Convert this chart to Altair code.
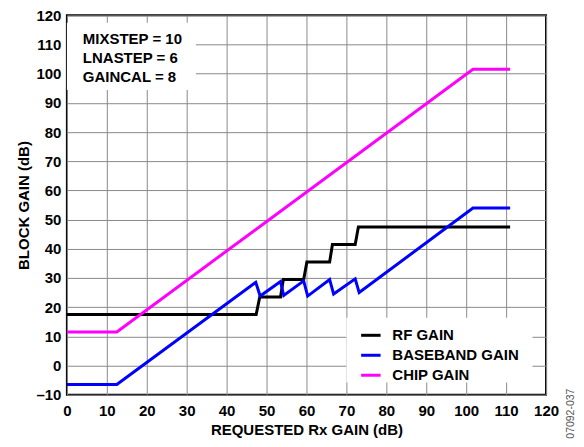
import altair as alt
import pandas as pd

# ---- data ----
rf_x = [0, 47.4, 48.3, 53.5, 54.2, 59.3, 60.1, 65.8, 66.5, 72.2, 73.0, 111]
rf_y = [17.5, 17.5, 23.5, 23.5, 29.5, 29.5, 35.5, 35.5, 41.5, 41.5, 47.5, 47.5]

bb_x = [0, 12.5, 47.3, 48.4, 53.5, 54.3, 59.3, 60.3, 65.8, 66.8, 72.2, 73.2, 101.7, 111]
bb_y = [-6.5, -6.5, 28.5, 23.8, 28.8, 24.0, 29.0, 23.8, 29.5, 24.5, 29.7, 25.0, 54.0, 54.0]

chip_x = [0, 12.5, 101.7, 111]
chip_y = [11.5, 11.5, 101.5, 101.5]

series_names = ["RF GAIN", "BASEBAND GAIN", "CHIP GAIN"]
series_colors = ["#000000", "#0000FF", "#FF00FF"]

x_ticks = list(range(0, 121, 10))
y_ticks = list(range(-10, 121, 10))

note_lines = ["MIXSTEP = 10", "LNASTEP = 6", "GAINCAL = 8"]
note_x = [4, 4, 4]
note_y = [111.9, 105.3, 98.8]
note_box = {"x": [0], "x2": [32.3], "y": [94.4], "y2": [117.5]}
legend_box = {"x": [70], "x2": [116.6], "y": [-5.8], "y2": [16.4]}

figure_id = "07092-037"

FONT = "Liberation Sans"
FS = 15

rows = []
for name, xs, ys in zip(series_names, [rf_x, bb_x, chip_x], [rf_y, bb_y, chip_y]):
    for i, (a, b) in enumerate(zip(xs, ys)):
        rows.append({"series": name, "x": a, "y": b, "order": i})
df = pd.DataFrame(rows)

xscale = alt.Scale(domain=[0, 120], nice=False, zero=False)
yscale = alt.Scale(domain=[-10, 120], nice=False, zero=False)

xaxis = alt.Axis(values=x_ticks, title="REQUESTED Rx GAIN (dB)", labelPadding=9,
                 titlePadding=4, labelFlush=False, labelOverlap=False)
yaxis = alt.Axis(values=y_ticks, title="BLOCK GAIN (dB)", labelPadding=6, titlePadding=4,
                 labelFlush=False, labelOverlap=False,
                 labelExpr="datum.value < 0 ? '\u2013' + format(-datum.value, 'd') : datum.label")

lines = alt.Chart(df).mark_line(strokeWidth=3, clip=True).encode(
    x=alt.X("x:Q", scale=xscale, axis=xaxis),
    y=alt.Y("y:Q", scale=yscale, axis=yaxis),
    color=alt.Color("series:N",
                    scale=alt.Scale(domain=series_names, range=series_colors),
                    legend=alt.Legend(title=None, orient="none", legendX=293, legendY=309,
                                      symbolType="stroke", symbolSize=380, symbolStrokeWidth=3,
                                      labelFont=FONT, labelFontSize=FS, labelFontWeight="bold",
                                      labelColor="black", labelOffset=10, rowPadding=0,
                                      padding=0)),
    order="order:Q",
)

nb = alt.Chart(pd.DataFrame(note_box)).mark_rect(fill="white", stroke=None).encode(
    x=alt.X("x:Q", scale=xscale, axis=xaxis), x2="x2:Q",
    y=alt.Y("y:Q", scale=yscale, axis=yaxis), y2="y2:Q")
lb = alt.Chart(pd.DataFrame(legend_box)).mark_rect(fill="white", stroke=None).encode(
    x=alt.X("x:Q", scale=xscale, axis=xaxis), x2="x2:Q",
    y=alt.Y("y:Q", scale=yscale, axis=yaxis), y2="y2:Q")

notes = alt.Chart(pd.DataFrame({"t": note_lines, "x": note_x, "y": note_y})).mark_text(
    align="left", baseline="middle", font=FONT, fontSize=FS, fontWeight="bold", color="black"
).encode(x=alt.X("x:Q", scale=xscale, axis=xaxis),
         y=alt.Y("y:Q", scale=yscale, axis=yaxis), text="t:N")

fid = alt.Chart(pd.DataFrame({"t": [figure_id]})).mark_text(
    angle=270, align="center", baseline="middle", font=FONT, fontSize=10.5, color="#555555"
).encode(text="t:N", x=alt.value(505), y=alt.value(399))

chart = alt.layer(nb, lb, lines, notes, fid).properties(
    width=480, height=380,
    autosize=alt.AutoSizeParams(type="none"),
    padding={"left": 59, "top": 7, "right": 30, "bottom": 44},
).configure_view(
    stroke="black", strokeWidth=2
).configure_axis(
    grid=True, gridColor="#8a8a8a", gridWidth=1, domain=False, ticks=False, tickSize=0,
    labelOverlap=False,
    labelFont=FONT, labelFontSize=FS, labelFontWeight="bold", labelColor="black",
    titleFont=FONT, titleFontSize=FS, titleFontWeight="bold", titleColor="black",
)

chart.save("out.html", embed_options={"renderer": "svg", "actions": False})
